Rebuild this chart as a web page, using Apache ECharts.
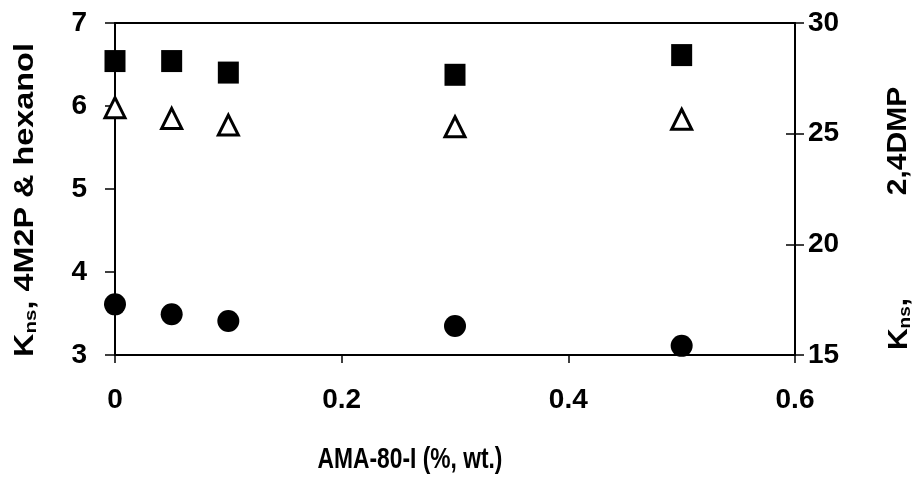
<!DOCTYPE html>
<html>
<head>
<meta charset="utf-8">
<script src="https://cdn.jsdelivr.net/npm/echarts@6/dist/echarts.min.js"></script>
<style>html,body{margin:0;padding:0;background:#fff;}#c{width:916px;height:480px;}</style>
</head>
<body>
<div id="c"></div>
<script>
// Data
const xValues = [0, 0.05, 0.1, 0.3, 0.5];
const kns24DMP = [28.28, 28.28, 27.76, 27.66, 28.55];   // squares, right axis
const kns4M2P = [5.98, 5.85, 5.77, 5.75, 5.84];         // open triangles, left axis
const knsHexanol = [3.61, 3.49, 3.41, 3.35, 3.11];      // filled circles, left axis
const xTicks = [0, 0.2, 0.4, 0.6];
const leftTicks = [3, 4, 5, 6, 7];
const rightTicks = [15, 20, 25, 30];

const FONT = "'Liberation Sans', Arial, sans-serif";
const chart = echarts.init(document.getElementById('c'), null, {renderer: 'canvas'});

function pairs(ys) { return xValues.map((x, i) => [x, ys[i]]); }

const lbl = {color: '#000', fontFamily: FONT, fontWeight: 'bold', fontSize: 28};
const axLine = {show: true, onZero: false, lineStyle: {color: '#000', width: 2}};
const tick = (len, inside) => ({show: true, inside: !!inside, length: len, lineStyle: {color: '#000', width: 1.5}});
const gridBox = {left: 115, right: 121, top: 23, bottom: 125, show: false};

const option = {
  animation: false,
  backgroundColor: '#fff',
  grid: [Object.assign({}, gridBox), Object.assign({}, gridBox)],
  xAxis: [{
    type: 'value', gridIndex: 0, min: xTicks[0], max: xTicks[xTicks.length - 1], interval: 0.2,
    position: 'bottom',
    axisLine: axLine,
    axisTick: tick(8),
    axisLabel: Object.assign({margin: 31, formatter: v => String(v)}, lbl),
    splitLine: {show: false}
  }, {
    type: 'value', gridIndex: 0, min: 0, max: 0.6, interval: 0.2, position: 'top',
    axisLine: axLine, axisTick: {show: false}, axisLabel: {show: false}, splitLine: {show: false}
  }, {
    type: 'value', gridIndex: 1, min: 0, max: 0.6, interval: 0.2, show: false
  }],
  yAxis: [{
    type: 'value', gridIndex: 0, min: leftTicks[0], max: leftTicks[leftTicks.length - 1], interval: 1,
    position: 'left',
    axisLine: axLine,
    axisTick: tick(10),
    axisLabel: Object.assign({margin: 28}, lbl),
    splitLine: {show: false}
  }, {
    type: 'value', gridIndex: 0, min: rightTicks[0], max: rightTicks[rightTicks.length - 1], interval: 5,
    position: 'right',
    axisLine: axLine,
    axisTick: tick(9),
    axisLabel: Object.assign({margin: 13}, lbl),
    splitLine: {show: false}
  }, {
    type: 'value', gridIndex: 1, min: rightTicks[0], max: rightTicks[rightTicks.length - 1], interval: 5,
    position: 'right',
    axisLine: {show: false, onZero: false},
    axisTick: tick(9, true),
    axisLabel: {show: false}, splitLine: {show: false}
  }],
  series: [{
    name: '2,4DMP', type: 'scatter', xAxisIndex: 0, yAxisIndex: 1, data: pairs(kns24DMP),
    symbol: 'rect', symbolSize: [21, 22], itemStyle: {color: '#000', opacity: 1}, z: 5
  }, {
    name: '4M2P', type: 'scatter', xAxisIndex: 0, yAxisIndex: 0, data: pairs(kns4M2P),
    symbol: 'triangle', symbolSize: 20,
    itemStyle: {color: '#fff', borderColor: '#000', borderWidth: 3, opacity: 1}, z: 5
  }, {
    name: 'hexanol', type: 'scatter', xAxisIndex: 0, yAxisIndex: 0, data: pairs(knsHexanol),
    symbol: 'circle', symbolSize: 22, itemStyle: {color: '#000', opacity: 1}, z: 5
  }],
  graphic: [{
    type: 'text', x: 25, y: 200, rotation: Math.PI / 2, scaleX: 1.08, scaleY: 0.9,
    style: {
      text: '{k|K}{s|ns}{k|, 4M2P & hexanol}',
      align: 'center', verticalAlign: 'middle', fill: '#000',
      rich: {
        k: {fontFamily: 'Liberation Sans', fontWeight: 'bold', fontSize: 30, lineHeight: 32, verticalAlign: 'bottom'},
        s: {fontFamily: 'Liberation Sans', fontWeight: 'bold', fontSize: 19, lineHeight: 19, verticalAlign: 'bottom'}
      }
    }
  }, {
    type: 'text', x: 899, y: 324, rotation: Math.PI / 2, scaleY: 0.9,
    style: {
      text: '{k|K}{s|ns}{k|,}',
      align: 'center', verticalAlign: 'middle', fill: '#000',
      rich: {
        k: {fontFamily: 'Liberation Sans', fontWeight: 'bold', fontSize: 30, lineHeight: 32, verticalAlign: 'bottom'},
        s: {fontFamily: 'Liberation Sans', fontWeight: 'bold', fontSize: 19, lineHeight: 19, verticalAlign: 'bottom'}
      }
    }
  }, {
    type: 'text', x: 899, y: 141, rotation: Math.PI / 2, scaleY: 0.9,
    style: {
      text: '2,4DMP', align: 'center', verticalAlign: 'middle', fill: '#000',
      font: "bold 30px 'Liberation Sans'"
    }
  }, {
    type: 'text', x: 410, y: 460, scaleX: 0.76,
    style: {
      text: 'AMA-80-I (%, wt.)', align: 'center', verticalAlign: 'middle', fill: '#000',
      font: "bold 30px 'Liberation Sans'"
    }
  }]
};
chart.setOption(option);
</script>
</body>
</html>
